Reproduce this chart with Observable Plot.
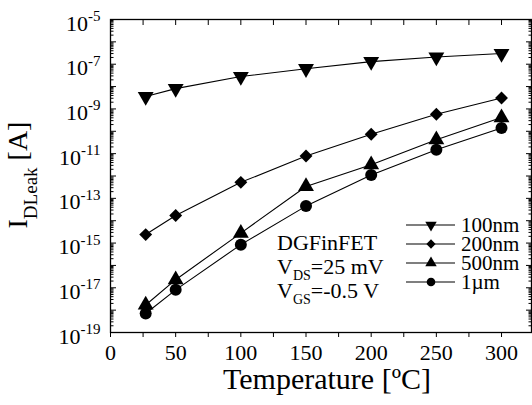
<!DOCTYPE html>
<html><head><meta charset="utf-8">
<script src="https://cdn.jsdelivr.net/npm/d3@7"></script>
<script src="https://cdn.jsdelivr.net/npm/@observablehq/plot@0.6"></script>
<style>
html,body{margin:0;padding:0;background:#fff;}
#chart svg{display:block;}
#chart svg, #chart svg text{font-family:"Liberation Serif","DejaVu Serif",serif;}
</style></head><body><div id="chart"></div>
<script>
// ---- data ----
const temperatures = [27, 50, 100, 150, 200, 250, 300];
const seriesNames = ["100nm", "200nm", "500nm", "1\u00B5m"];
const leak100nm = [3.6e-9, 8.1e-9, 2.8e-8, 6.3e-8, 1.3e-7, 2.1e-7, 3.0e-7];
const leak200nm = [2.4e-15, 1.7e-14, 5.2e-13, 7.8e-12, 7.4e-11, 5.8e-10, 3.1e-9];
const leak500nm = [1.7e-18, 2.3e-17, 2.8e-15, 3.4e-13, 3.2e-12, 4.2e-11, 4.1e-10];
const leak1um   = [7.1e-19, 8.1e-18, 8.5e-16, 4.5e-14, 1.1e-12, 1.5e-11, 1.4e-10];
const xTickValues = [0, 50, 100, 150, 200, 250, 300];
const xMinorTickValues = [25, 75, 125, 175, 225, 275, 325];
const yLabelExponents = [-5, -7, -9, -11, -13, -15, -17, -19];
const annotationLines = [["DGFinFET", ""], ["V", "DS", "=25 mV"], ["V", "GS", "=-0.5 V"]];
const yTitle = ["I", "DLeak", " [A]"];
const xTitle = "Temperature [\u00BAC]";

// ---- styles ----
const FONT = "Liberation Serif";
const styleOf = {
  "100nm": {symbol: "triangle", rotate: 180, r: 5.9},
  "200nm": {symbol: "diamond2", rotate: 0, r: 5.8},
  "500nm": {symbol: "triangle", rotate: 0, r: 5.9},
  "1\u00B5m": {symbol: "circle", rotate: 0, r: 6}
};

const allSeries = [leak100nm, leak200nm, leak500nm, leak1um];
const rows = seriesNames.flatMap((s, i) => temperatures.map((t, j) => ({series: s, T: t, I: allSeries[i][j]})));

const yMajor = d3.range(-19, -4).map(e => Math.pow(10, e));
const yMinor = d3.range(-19, -5).flatMap(e => d3.range(2, 10).map(m => m * Math.pow(10, e)));
const yLabels = yLabelExponents.map(e => Math.pow(10, e));

const svg = Plot.plot({
  width: 532, height: 405,
  marginLeft: 110, marginRight: 1, marginTop: 19, marginBottom: 73,
  style: {fontFamily: FONT, color: "black", background: "white", overflow: "visible"},
  x: {domain: [0, 323], label: null},
  y: {type: "log", domain: [1e-19, 1e-5], label: null},
  marks: [
    Plot.frame({stroke: "black", strokeWidth: 1.3}),
    Plot.axisX(xMinorTickValues.concat(xTickValues), {anchor: "top", tickSize: -5, fill: "none", label: null}),
    Plot.axisX(xMinorTickValues.concat(xTickValues), {anchor: "bottom", tickSize: 5, fill: "none", label: null}),
    Plot.axisX(xTickValues, {anchor: "bottom", tickSize: 5, tickPadding: 7, fontSize: 22, stroke: "none", label: null}),
    Plot.axisY(yMajor, {anchor: "left", tickSize: -6, fill: "none", label: null}),
    Plot.axisY(yMinor, {anchor: "left", tickSize: -3.5, fill: "none", label: null}),
    Plot.axisY(yMajor, {anchor: "right", tickSize: -6, fill: "none", label: null}),
    Plot.axisY(yMinor, {anchor: "right", tickSize: -3.5, fill: "none", label: null}),
    Plot.axisY(yLabels, {anchor: "left", tickSize: 0, tickPadding: 10, dy: 4, fontSize: 22, label: null,
      tickFormat: d => "10|" + Math.round(Math.log10(d))}),
    Plot.line(rows, {x: "T", y: "I", z: "series", stroke: "black", strokeWidth: 1.1}),
    ...seriesNames.map(s => Plot.dot(rows.filter(d => d.series === s), {
      x: "T", y: "I", symbol: styleOf[s].symbol, rotate: styleOf[s].rotate, r: styleOf[s].r,
      fill: "black", stroke: "none"
    })),
    Plot.text([xTitle], {frameAnchor: "bottom", dy: 56, dx: 6, fontSize: 30})
  ]
});

document.getElementById("chart").appendChild(svg);

// superscript exponents on the y tick labels
svg.querySelectorAll('g[aria-label="y-axis tick label"] text').forEach(t => {
  const [base, exp] = t.textContent.split("|");
  t.textContent = "";
  const a = document.createElementNS("http://www.w3.org/2000/svg", "tspan");
  a.textContent = base;
  const b = document.createElementNS("http://www.w3.org/2000/svg", "tspan");
  b.textContent = exp;
  b.setAttribute("font-size", "15");
  b.setAttribute("dy", "-9.5");
  t.appendChild(a); t.appendChild(b);
});

const root = d3.select(svg);

// y title
const yt = root.append("text")
  .attr("transform", "translate(27,175) rotate(-90)")
  .attr("text-anchor", "middle").attr("font-size", 28).attr("fill", "black");
yt.append("tspan").text(yTitle[0]);
yt.append("tspan").attr("font-size", 19).attr("dy", 10).text(yTitle[1]);
yt.append("tspan").attr("dy", -10).text(yTitle[2]);

// annotation
annotationLines.forEach((ln, i) => {
  const t = root.append("text").attr("x", 277).attr("y", 250 + i * 24)
    .attr("text-anchor", "start").attr("font-size", 22).attr("fill", "black");
  t.append("tspan").text(ln[0]);
  if (ln.length > 2) {
    t.append("tspan").attr("font-size", 14).attr("dy", 6).text(ln[1]);
    t.append("tspan").attr("dy", -6).text(ln[2]);
  }
});

// legend
const symbolMap = {triangle: d3.symbolTriangle, diamond2: d3.symbolDiamond2, circle: d3.symbolCircle};
seriesNames.forEach((s, i) => {
  const y = 225 + i * 19;
  const st = styleOf[s];
  root.append("line").attr("x1", 406).attr("x2", 455).attr("y1", y).attr("y2", y)
    .attr("stroke", "black").attr("stroke-width", 1.1);
  const rr = st.r * 0.72;
  root.append("path").attr("d", d3.symbol(symbolMap[st.symbol], Math.PI * rr * rr)())
    .attr("transform", `translate(431,${y}) rotate(${st.rotate})`).attr("fill", "black");
  root.append("text").attr("x", 461).attr("y", y).attr("dy", "0.35em")
    .attr("text-anchor", "start").attr("font-size", 21).attr("fill", "black").text(s);
});
</script></body></html>
